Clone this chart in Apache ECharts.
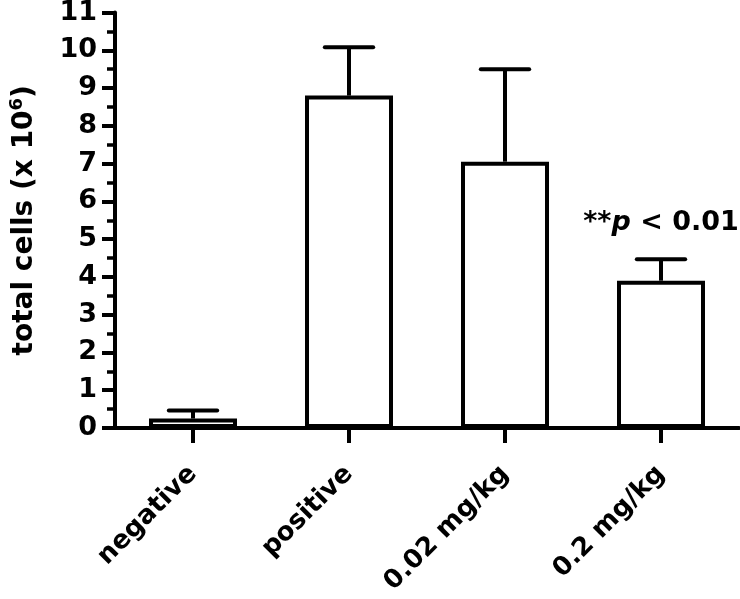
<!DOCTYPE html>
<html>
<head>
<meta charset="utf-8">
<script src="https://cdn.jsdelivr.net/npm/echarts@6/dist/echarts.min.js"></script>
<style>
html,body{margin:0;padding:0;background:#fff;}
#chart{width:740px;height:599px;}
</style>
</head>
<body>
<div id="chart"></div>
<script>
// ---- data ----
var categories = ['negative', 'positive', '0.02 mg/kg', '0.2 mg/kg'];
var means = [0.25, 8.80, 7.05, 3.90];
var sems = [0.21, 1.28, 2.45, 0.57];
var yTicks = [0, 1, 2, 3, 4, 5, 6, 7, 8, 9, 10, 11];
var annotationCategory = '0.2 mg/kg';
var annotationText = ['**', 'p', ' < 0.01'];

var FONT = 'DejaVu Sans';
var chart = echarts.init(document.getElementById('chart'), null, {renderer: 'canvas'});

var errData = categories.map(function (c, i) { return [i, means[i], means[i] + sems[i]]; });
var annIdx = categories.indexOf(annotationCategory);

var option = {
  animation: false,
  backgroundColor: '#ffffff',
  grid: {left: 115, right: 1, top: 12.5, bottom: 171, containLabel: false, outerBoundsMode: 'none'},
  xAxis: {
    type: 'category',
    data: categories,
    boundaryGap: true,
    axisLine: {show: true, lineStyle: {color: '#000', width: 4}},
    axisTick: {show: true, alignWithLabel: true, inside: false, length: 15, lineStyle: {color: '#000', width: 4}},
    axisLabel: {rotate: 45, margin: 42, color: '#000', fontFamily: FONT, fontWeight: 'bold', fontSize: 26},
    splitLine: {show: false}
  },
  yAxis: {
    type: 'value',
    min: yTicks[0],
    max: yTicks[yTicks.length - 1],
    interval: 1,
    name: '{t|total cells (x 10}{s|6}{t|)}',
    nameLocation: 'middle',
    nameGap: 74,
    nameRotate: 90,
    nameTextStyle: {
      rich: {
        t: {fontFamily: FONT, fontWeight: 'bold', fontSize: 28, color: '#000'},
        s: {fontFamily: FONT, fontWeight: 'bold', fontSize: 18, color: '#000', padding: [0, 0, 15, 0]}
      }
    },
    axisLine: {show: true, lineStyle: {color: '#000', width: 4}},
    axisTick: {show: true, length: 13, lineStyle: {color: '#000', width: 4}},
    minorTick: {show: true, splitNumber: 2, length: 8, lineStyle: {color: '#000', width: 3.5}},
    axisLabel: {margin: 18, color: '#000', fontFamily: FONT, fontWeight: 'bold', fontSize: 27},
    splitLine: {show: false},
    minorSplitLine: {show: false}
  },
  series: [
    {
      type: 'bar',
      data: means,
      barWidth: 88,
      itemStyle: {color: '#ffffff', borderColor: '#000', borderWidth: 4},
      z: 2,
      markPoint: {
        symbol: 'circle',
        symbolSize: 0,
        data: [{coord: [annIdx, means[annIdx] + sems[annIdx]]}],
        label: {
          show: true,
          position: 'inside',
          offset: [0, -36],
          formatter: '{a|' + annotationText[0] + '}{b|' + annotationText[1] + '}{a|' + annotationText[2] + '}',
          rich: {
            a: {fontFamily: FONT, fontWeight: 'bold', fontSize: 27, color: '#000'},
            b: {fontFamily: FONT, fontWeight: 'bold', fontStyle: 'italic', fontSize: 27, color: '#000'}
          }
        }
      }
    },
    {
      type: 'custom',
      data: errData,
      z: 3,
      renderItem: function (params, api) {
        var x = api.value(0);
        var lo = api.coord([x, api.value(1)]);
        var hi = api.coord([x, api.value(2)]);
        var half = api.size([1, 0])[0] * 0.155;
        var st = {stroke: '#000', lineWidth: 4, lineCap: 'butt'};
        return {
          type: 'group',
          children: [
            {type: 'line', shape: {x1: lo[0], y1: lo[1], x2: hi[0], y2: hi[1]}, style: st},
            {type: 'line', shape: {x1: hi[0] - half, y1: hi[1], x2: hi[0] + half, y2: hi[1]}, style: {stroke: '#000', lineWidth: 4, lineCap: 'round'}}
          ]
        };
      }
    }
  ]
};
chart.setOption(option);
</script>
</body>
</html>
